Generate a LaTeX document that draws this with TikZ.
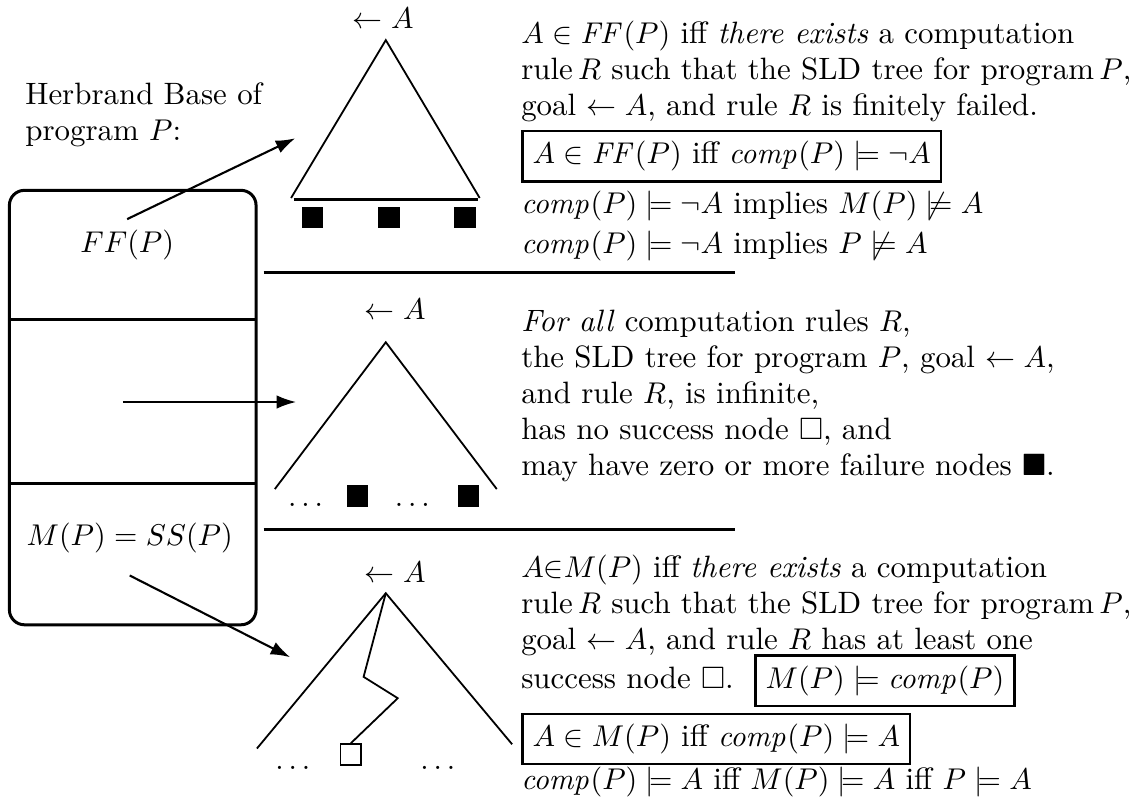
\documentclass[tikz,border=0pt]{standalone}
\usepackage{amsmath,amssymb}
\usetikzlibrary{arrows.meta}
\setlength{\fboxrule}{0.8pt}

\begin{document}
\begin{tikzpicture}[>={Latex[length=6.5pt,width=4.5pt]},
  font=\fontsize{10.3}{12}\selectfont,
  frame/.style={line width=1pt},
  leg/.style={line width=0.6pt},
  pointer/.style={->,line width=0.7pt},
  failnode/.style={fill,inner sep=0pt,minimum size=7.2pt},
  succnode/.style={draw,line width=0.6pt,inner sep=0pt,minimum size=6.9pt},
  goal/.style={anchor=base},
  block/.style={anchor=north west,inner sep=0pt,align=left}]
  \useasboundingbox (0,0) rectangle (13.45,9.41);
  \draw[frame,rounded corners=5pt] (0.11,2.09) rectangle (3.00,7.18);
  \draw[frame] (0.11,5.67) -- (3.00,5.67);
  \draw[frame] (0.11,3.75) -- (3.00,3.75);
  \draw[frame] (3.09,6.22) -- (8.61,6.22);
  \draw[frame] (3.09,3.21) -- (8.61,3.21);
  \node[block] (hb) at (0.29,8.45) {Herbrand Base of\\ program $P$:};
  \node[anchor=base] (ff) at (1.49,6.455) {$FF(P)$};
  \node[anchor=base] (mss) at (1.52,3.02) {$M(P)=SS(P)$};

  \coordinate (t1) at (4.52,8.94);
  \draw[leg] (3.41,7.09) -- (t1) -- (5.62,7.09);
  \draw[frame] (3.44,7.07) -- (5.60,7.07);
  \node[goal] (g1) at (4.49,9.08) {$\leftarrow A$};
  \foreach \x/\n in {3.66/1,4.56/2,5.45/3}
    \node[failnode] (f1\n) at (\x,6.86) {};

  \coordinate (t2) at (4.52,5.40);
  \draw[leg] (3.22,3.68) -- (t2) -- (5.82,3.68);
  \node[goal] (g2) at (4.63,5.67) {$\leftarrow A$};
  \node[anchor=base] (d21) at (3.58,3.47) {$\ldots$};
  \node[failnode] (f21) at (4.19,3.60) {};
  \node[anchor=base] (d22) at (4.83,3.47) {$\ldots$};
  \node[failnode] (f22) at (5.49,3.60) {};

  \coordinate (t3) at (4.52,2.46);
  \draw[leg] (3.01,0.64) -- (t3) -- (6.00,0.69);
  \node[succnode] (s3) at (4.11,0.57) {};
  \draw[leg] (t3) -- (4.26,1.48) -- (4.66,1.23) -- (s3.north);
  \node[goal] (g3) at (4.63,2.58) {$\leftarrow A$};
  \node[anchor=base] (d31) at (3.43,0.40) {$\ldots$};
  \node[anchor=base] (d32) at (5.13,0.40) {$\ldots$};

  \coordinate (ffin) at (3.46,7.79);
  \coordinate (infout) at (1.44,4.70);
  \coordinate (infin) at (3.47,4.70);
  \coordinate (mssin) at (3.40,1.71);
  \draw[pointer] (ff.north) -- (ffin);
  \draw[pointer] (infout) -- (infin);
  \draw[pointer] ([yshift=-4pt]mss.south) -- (mssin);

  \node[block] (txtff) at (6.10,9.17) {$A \in \mathit{FF}(P)$ iff \textit{there exists} a computation\\
    rule\,$R$ such that the SLD tree for program\,$P$,\\
    goal $\leftarrow A$, and rule $R$ is finitely failed.\\[1.6pt]
    \fbox{$A \in \mathit{FF}(P)$ iff $\mathit{comp}(P) \models \neg A$}\\[1.7pt]
    $\mathit{comp}(P) \models \neg A$ implies $M(P) \not\models A$\\[1.3pt]
    $\mathit{comp}(P) \models \neg A$ implies $P \not\models A$};
  \node[block] (txtinf) at (6.10,5.79) {\textit{For all} computation rules $R$,\\
    the SLD tree for program $P$, goal $\leftarrow A$,\\
    and rule $R$, is infinite,\\
    has no success node $\Box$, and\\
    may have zero or more failure nodes $\blacksquare$.};
  \node[block] (txtss) at (6.10,2.91) {$A{\in}M(P)$ iff \textit{there exists} a computation\\
    rule\,$R$ such that the SLD tree for program\,$P$,\\
    goal $\leftarrow A$, and rule $R$ has at least one\\[-1.7pt]
    success node $\Box$.\ \ \fbox{$M(P) \models \mathit{comp}(P)$}\\[0.9pt]
    \fbox{$A \in M(P)$ iff $\mathit{comp}(P) \models A$}\\[-0.4pt]
    $\mathit{comp}(P) \models A$ iff $M(P) \models A$ iff $P \models A$};
\end{tikzpicture}
\end{document}
